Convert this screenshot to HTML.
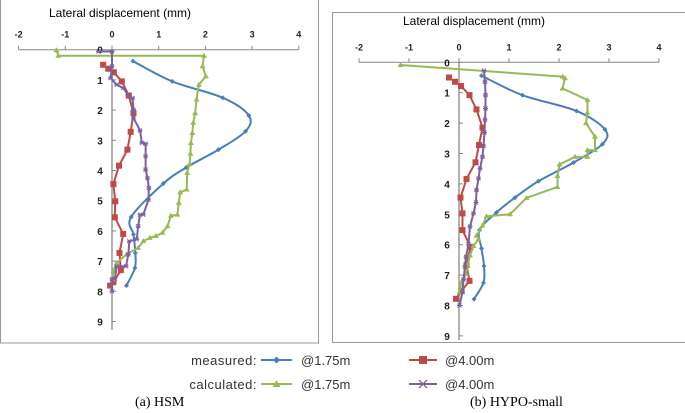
<!DOCTYPE html>
<html><head><meta charset="utf-8"><style>
body{margin:0;background:#fff;width:685px;height:413px;overflow:hidden}
svg{display:block}
text{font-family:"Liberation Sans",sans-serif}
</style></head><body>
<svg id="s" width="685" height="413" xmlns="http://www.w3.org/2000/svg">
<rect x="0.5" y="-2" width="318" height="345" fill="none" stroke="#999"/>
<rect x="332.5" y="12.5" width="360" height="330" fill="none" stroke="#999"/>
<text x="49" y="17" font-size="12" fill="#000">Lateral displacement (mm)</text>
<text x="403" y="25" font-size="12" fill="#000">Lateral displacement (mm)</text>
<g id="legend" font-size="13" fill="#333">
<text x="257" y="365" text-anchor="end" style="letter-spacing:0.5px">measured:</text>
<line x1="261" y1="360" x2="292" y2="360" stroke="#4a7ebb" stroke-width="2"/><path d="M276.5 356.5l3.5 3.5-3.5 3.5-3.5-3.5z" fill="#4a7ebb"/>
<text x="301" y="365">@1.75m</text>
<line x1="409" y1="360" x2="437" y2="360" stroke="#be4b48" stroke-width="2"/><rect x="419" y="356" width="8" height="8" fill="#be4b48"/>
<text x="445" y="365">@4.00m</text>
<text x="257" y="389" text-anchor="end" style="letter-spacing:0.5px">calculated:</text>
<line x1="261" y1="384" x2="292" y2="384" stroke="#98b954" stroke-width="2"/><path d="M276.5 380l4 7h-8z" fill="#98b954"/>
<text x="301" y="389">@1.75m</text>
<line x1="409" y1="384" x2="437" y2="384" stroke="#7d60a0" stroke-width="2"/><path d="M419 380l8 8M427 380l-8 8" stroke="#7d60a0" stroke-width="1.3"/>
<text x="445" y="389">@4.00m</text>
</g>
<text x="135" y="406" font-size="14" style="font-family:'Liberation Serif',serif">(a) HSM</text>
<text x="470" y="406" font-size="14" style="font-family:'Liberation Serif',serif">(b) HYPO-small</text>
</svg>
<script>
const xTicks=[-2,-1,0,1,2,3,4];
const yTicks=[0,1,2,3,4,5,6,7,8,9];
const aBlue=[[0.45,0.38],[1.29,1.05],[2.37,1.59],[2.93,2.18],[2.86,2.7],[2.28,3.31],[1.59,3.9],[1.1,4.43],[0.41,5.54],[0.46,6.12],[0.5,6.73],[0.49,7.23],[0.31,7.81]];
const aRed=[[-0.19,0.5],[-0.08,0.63],[0.04,0.75],[0.21,1.05],[0.36,1.52],[0.46,2.1],[0.4,2.72],[0.33,3.31],[0.15,3.84],[0.03,4.45],[0.07,5.02],[0.06,5.55],[0.24,6.1],[0.16,6.73],[0.19,7.3],[0.03,7.7],[-0.04,7.81]];
const aGreen=[[-1.19,0.02],[-1.15,0.2],[1.97,0.2],[1.94,0.55],[2.01,0.88],[1.86,1.16],[1.81,1.65],[1.78,2.1],[1.74,2.42],[1.72,2.76],[1.69,3.09],[1.68,3.44],[1.66,3.79],[1.61,4.08],[1.6,4.63],[1.46,4.72],[1.43,5.07],[1.4,5.46],[1.26,5.5],[1.19,5.84],[1.08,6.06],[0.94,6.17],[0.81,6.23],[0.67,6.34],[0.56,6.56],[0.31,6.78],[0.1,7.06],[0.03,7.33],[0.01,7.6]];
const aPurple=[[-0.29,0.06],[0,0.06],[0,0.55],[-0.03,0.94],[0.1,1.16],[0.24,1.27],[0.34,1.49],[0.44,1.6],[0.46,1.99],[0.46,2.26],[0.6,2.67],[0.64,3.09],[0.72,3.11],[0.72,3.53],[0.72,3.97],[0.76,4.25],[0.79,4.58],[0.78,4.97],[0.67,5.46],[0.6,5.46],[0.56,5.84],[0.53,6.28],[0.37,6.34],[0.35,6.78],[0.3,7.17],[0.1,7.17],[0.06,7.59],[0,7.59],[0,8.0]];
const bBlue=[[0.45,0.44],[1.27,1.08],[2.35,1.6],[2.92,2.21],[2.87,2.69],[2.29,3.3],[1.59,3.91],[1.12,4.45],[0.75,4.94],[0.41,5.52],[0.45,6.12],[0.5,6.7],[0.49,7.25],[0.3,7.79]];
const bRed=[[-0.2,0.5],[-0.08,0.64],[0.04,0.78],[0.21,1.08],[0.35,1.55],[0.47,2.15],[0.4,2.72],[0.33,3.29],[0.15,3.84],[0.03,4.45],[0.07,4.97],[0.07,5.52],[0.23,6.07],[0.15,6.67],[0.21,7.19],[0.05,7.52],[-0.06,7.78]];
const bGreen=[[-1.17,0.09],[2.07,0.47],[2.12,0.52],[2.07,0.86],[2.57,1.24],[2.57,1.65],[2.54,2.0],[2.72,2.45],[2.72,2.89],[2.57,2.89],[2.57,3.11],[2.32,3.11],[2.01,3.36],[1.97,3.74],[1.97,4.1],[1.35,4.46],[1.02,5.0],[0.55,5.07],[0.47,5.37],[0.35,5.7],[0.39,5.82],[0.29,6.04],[0.22,6.35],[0.17,6.68],[0.14,6.96],[0.05,7.23],[0.01,7.56]];
const bPurple=[[0.5,0.27],[0.52,0.64],[0.53,1.08],[0.53,1.52],[0.52,1.89],[0.51,2.31],[0.49,2.75],[0.47,3.11],[0.42,3.49],[0.39,3.82],[0.35,4.2],[0.34,4.61],[0.29,4.97],[0.22,5.4],[0.19,5.98],[0.14,6.4],[0.12,6.73],[0.09,7.14],[0.07,7.56],[0.01,8.0]];

const NS="http://www.w3.org/2000/svg";
const svg=document.getElementById('s');
function mk(t,a,p){const e=document.createElementNS(NS,t);for(const k in a)e.setAttribute(k,a[k]);(p||svg).appendChild(e);return e;}
const colors={blue:'#4a7ebb',red:'#be4b48',green:'#98b954',purple:'#7d60a0'};

function chart(name,x0,unitX,y0,unitY,yMaxPx,series){
  const g=mk('g',{});
  
  
  const X=v=>x0+v*unitX, Y=v=>y0+v*unitY;
  const ax=mk('line',{x1:X(-2),y1:y0,x2:X(4),y2:y0,stroke:'#888','stroke-width':1},g);
  
  
  xTicks.forEach(v=>{mk('line',{x1:X(v),y1:y0,x2:X(v),y2:y0-4,stroke:'#888'},g);
    const l=mk('text',{x:X(v),y:y0-12,'font-size':9,'text-anchor':'middle','font-weight':'bold',fill:'#222'},g);l.textContent=v;
    
    });
  const ay=mk('line',{x1:X(0),y1:y0,x2:X(0),y2:yMaxPx,stroke:'#888','stroke-width':1.3},g);
  
  
  yTicks.forEach(v=>{if(Y(v)>yMaxPx+2)return;mk('line',{x1:X(0),y1:Y(v),x2:X(0)+4,y2:Y(v),stroke:'#888'},g);
    const l=mk('text',{x:X(0)-12,y:Y(v)+4,'font-size':10,'text-anchor':'middle','font-weight':'bold',fill:'#222'},g);l.textContent=v;
    
    });
  series.forEach(([data,c,m,sn,smooth])=>{
    const sg=mk('g',{},g);
    
    
    const P=data.map(d=>[X(d[0]),Y(d[1])]);
    let d='M'+P[0].join(' ');
    if(smooth){for(let i=0;i<P.length-1;i++){const p0=P[i-1]||P[i],p1=P[i],p2=P[i+1],p3=P[i+2]||p2;
      d+=` C${p1[0]+(p2[0]-p0[0])/6} ${p1[1]+(p2[1]-p0[1])/6} ${p2[0]-(p3[0]-p1[0])/6} ${p2[1]-(p3[1]-p1[1])/6} ${p2[0]} ${p2[1]}`;}}
    else P.slice(1).forEach(p=>d+=' L'+p.join(' '));
    mk('path',{d,fill:'none',stroke:colors[c],'stroke-width':2,'stroke-linejoin':'round'},sg);
    P.forEach(([x,y])=>{
      if(m==='d')mk('path',{d:`M${x} ${y-2.5}l2.5 2.5-2.5 2.5-2.5-2.5z`,fill:colors[c]},sg);
      else if(m==='s')mk('rect',{x:x-3,y:y-3,width:6,height:6,fill:colors[c]},sg);
      else if(m==='t')mk('path',{d:`M${x} ${y-3}l3 5h-6z`,fill:colors[c]},sg);
      else mk('path',{d:`M${x-2} ${y-2}l4 4M${x+2} ${y-2}l-4 4M${x-2.5} ${y}h5`,stroke:colors[c],'stroke-width':1},sg);
    });
  });
}
chart('chart-hsm',112,46.7,49.7,30.2,330,[[aBlue,'blue','d','series-measured-175',true],[aRed,'red','s','series-measured-400',false],[aGreen,'green','t','series-calculated-175',false],[aPurple,'purple','x','series-calculated-400',false]]);
chart('chart-hypo-small',459,50,62.3,30.4,340,[[bBlue,'blue','d','series-measured-175',true],[bRed,'red','s','series-measured-400',false],[bGreen,'green','t','series-calculated-175',false],[bPurple,'purple','x','series-calculated-400',false]]);
</script>
</body></html>
